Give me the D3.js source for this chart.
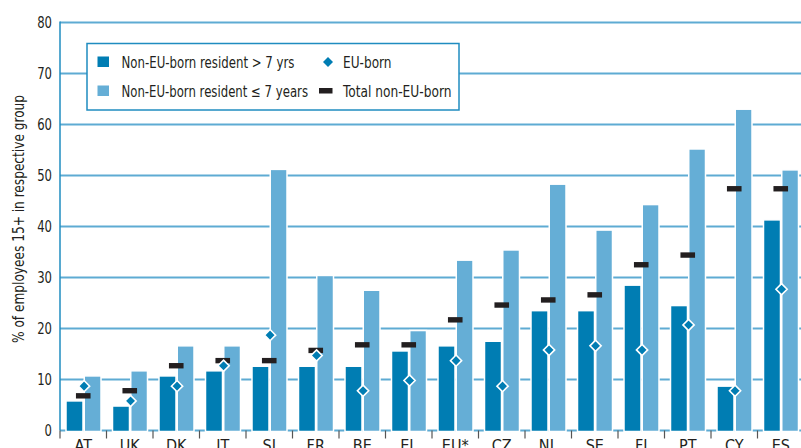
<!DOCTYPE html>
<html><head><meta charset="utf-8">
<script src="https://cdn.jsdelivr.net/npm/d3@7/dist/d3.min.js"></script>
<style>
html,body{margin:0;padding:0;background:#fff;}
svg text{font-family:"DejaVu Sans Condensed","Liberation Sans Narrow",sans-serif;fill:#231f20;}
</style></head>
<body><svg id="c" width="801" height="448"></svg>
<script>
const categories = ["AT","UK","DK","IT","SI","FR","BE","EL","EU*","CZ","NL","SE","FI","PT","CY","ES"];
const longResident = [5.8,4.8,10.7,11.7,12.6,12.6,12.6,15.6,16.6,17.5,23.5,23.5,28.5,24.5,8.7,41.3];
const recentResident = [10.7,11.7,16.6,16.6,51.2,30.4,27.5,19.6,33.4,35.4,48.3,39.3,44.3,55.2,63.0,51.1];
const euBorn = [8.7,5.8,8.7,12.7,18.7,14.7,7.8,9.8,13.7,8.7,15.8,16.6,15.8,20.7,7.8,27.7];
const totalNonEU = [6.8,7.8,12.7,13.7,13.7,15.7,16.8,16.8,21.7,24.6,25.6,26.6,32.5,34.4,47.4,47.4];
const yTicks = [0,10,20,30,40,50,60,70,80];
const legendLabels = ["Non-EU-born resident > 7 yrs","Non-EU-born resident \u2264 7 years","EU-born","Total non-EU-born"];
const yTitle = "% of employees 15+ in respective group";

const C = {dark:"#007db3", light:"#65aed6", grid:"#5eabd3", axis:"#1f8cc0", dash:"#231f20"};
const svg = d3.select("#c");
const x = d3.scaleBand().domain(categories).range([60, 60 + 16*46.5]).padding(0);
const y = d3.scaleLinear().domain([0,80]).range([430.5, 22.5]);
const bw = x.bandwidth();

// gridlines
svg.append("g").selectAll("line").data(yTicks).join("line")
  .attr("x1",60).attr("x2",801).attr("y1",d=>y(d)).attr("y2",d=>y(d))
  .attr("stroke",C.grid).attr("stroke-width",2);

// y axis line
svg.append("line").attr("x1",60).attr("x2",60).attr("y1",y(80)-1).attr("y2",y(0))
  .attr("stroke",C.axis).attr("stroke-width",1.5);

// y tick labels
svg.append("g").selectAll("text").data(yTicks).join("text")
  .attr("x",52).attr("y",d=>y(d)+5.5).attr("text-anchor","end")
  .attr("font-size",16).attr("textLength",d=>String(d).length*7.4).attr("lengthAdjust","spacingAndGlyphs")
  .text(d=>d);

// y title
svg.append("text").attr("transform","translate(24,219) rotate(-90)")
  .attr("text-anchor","middle").attr("font-size",15.5)
  .attr("textLength",248).attr("lengthAdjust","spacingAndGlyphs").text(yTitle);

// x ticks
const bounds = categories.map(c=>x(c)).concat([x(categories[15])+bw]);
svg.append("g").selectAll("line").data(bounds).join("line")
  .attr("x1",d=>d).attr("x2",d=>d).attr("y1",y(0)).attr("y2",y(0)+8)
  .attr("stroke","#555").attr("stroke-width",1.2);

// x labels
svg.append("g").selectAll("text").data(categories).join("text")
  .attr("x",d=>x(d)+bw/2).attr("y",450.5).attr("text-anchor","middle")
  .attr("font-size",16).text(d=>d);

// bars
const g = svg.append("g");
g.selectAll("rect.dk").data(categories).join("rect").attr("class","dk")
  .attr("x",d=>x(d)+6).attr("width",17)
  .attr("y",(d,i)=>y(longResident[i])).attr("height",(d,i)=>y(0)-y(longResident[i])+1)
  .attr("fill",C.dark).attr("stroke","#fff").attr("stroke-width",1.5);
g.selectAll("rect.lt").data(categories).join("rect").attr("class","lt")
  .attr("x",d=>x(d)+24.25).attr("width",16.75)
  .attr("y",(d,i)=>y(recentResident[i])).attr("height",(d,i)=>y(0)-y(recentResident[i])+1)
  .attr("fill",C.light).attr("stroke","#fff").attr("stroke-width",1.5);

// total non-EU dashes
g.selectAll("rect.ds").data(categories).join("rect").attr("class","ds")
  .attr("x",d=>x(d)+bw/2-7.3).attr("width",14.6)
  .attr("y",(d,i)=>y(totalNonEU[i])-2.7).attr("height",5.4)
  .attr("fill",C.dash);

// EU-born diamonds
const dia = "M0,-5.6L5.6,0L0,5.6L-5.6,0Z";
g.selectAll("path.dm").data(categories).join("path").attr("class","dm")
  .attr("d",dia)
  .attr("transform",(d,i)=>`translate(${x(d)+bw/2+0.8},${y(euBorn[i])})`)
  .attr("fill",C.dark).attr("stroke","#fff").attr("stroke-width",1.6);

// legend
const lg = svg.append("g");
lg.append("rect").attr("x",87).attr("y",43.5).attr("width",372).attr("height",66.5)
  .attr("fill","#fff").attr("stroke",C.axis).attr("stroke-width",1.5);
lg.append("rect").attr("x",97.5).attr("y",56.5).attr("width",11.5).attr("height",10.5).attr("fill",C.dark);
lg.append("rect").attr("x",97.5).attr("y",85.5).attr("width",11.5).attr("height",10.5).attr("fill",C.light);
lg.append("path").attr("d","M0,-5L5,0L0,5L-5,0Z").attr("transform","translate(328,62)").attr("fill",C.dark);
lg.append("rect").attr("x",319).attr("y",88).attr("width",13.5).attr("height",5.5).attr("fill",C.dash);
const lt = [[121.5,68,legendLabels[0],173],[121.5,97,legendLabels[1],186.5],[343,68,legendLabels[2],48.5],[343,97,legendLabels[3],108.5]];
lg.selectAll("text").data(lt).join("text").attr("x",d=>d[0]).attr("y",d=>d[1])
  .attr("font-size",15.5).attr("textLength",d=>d[3]).attr("lengthAdjust","spacingAndGlyphs")
  .text(d=>d[2]);
</script></body></html>
